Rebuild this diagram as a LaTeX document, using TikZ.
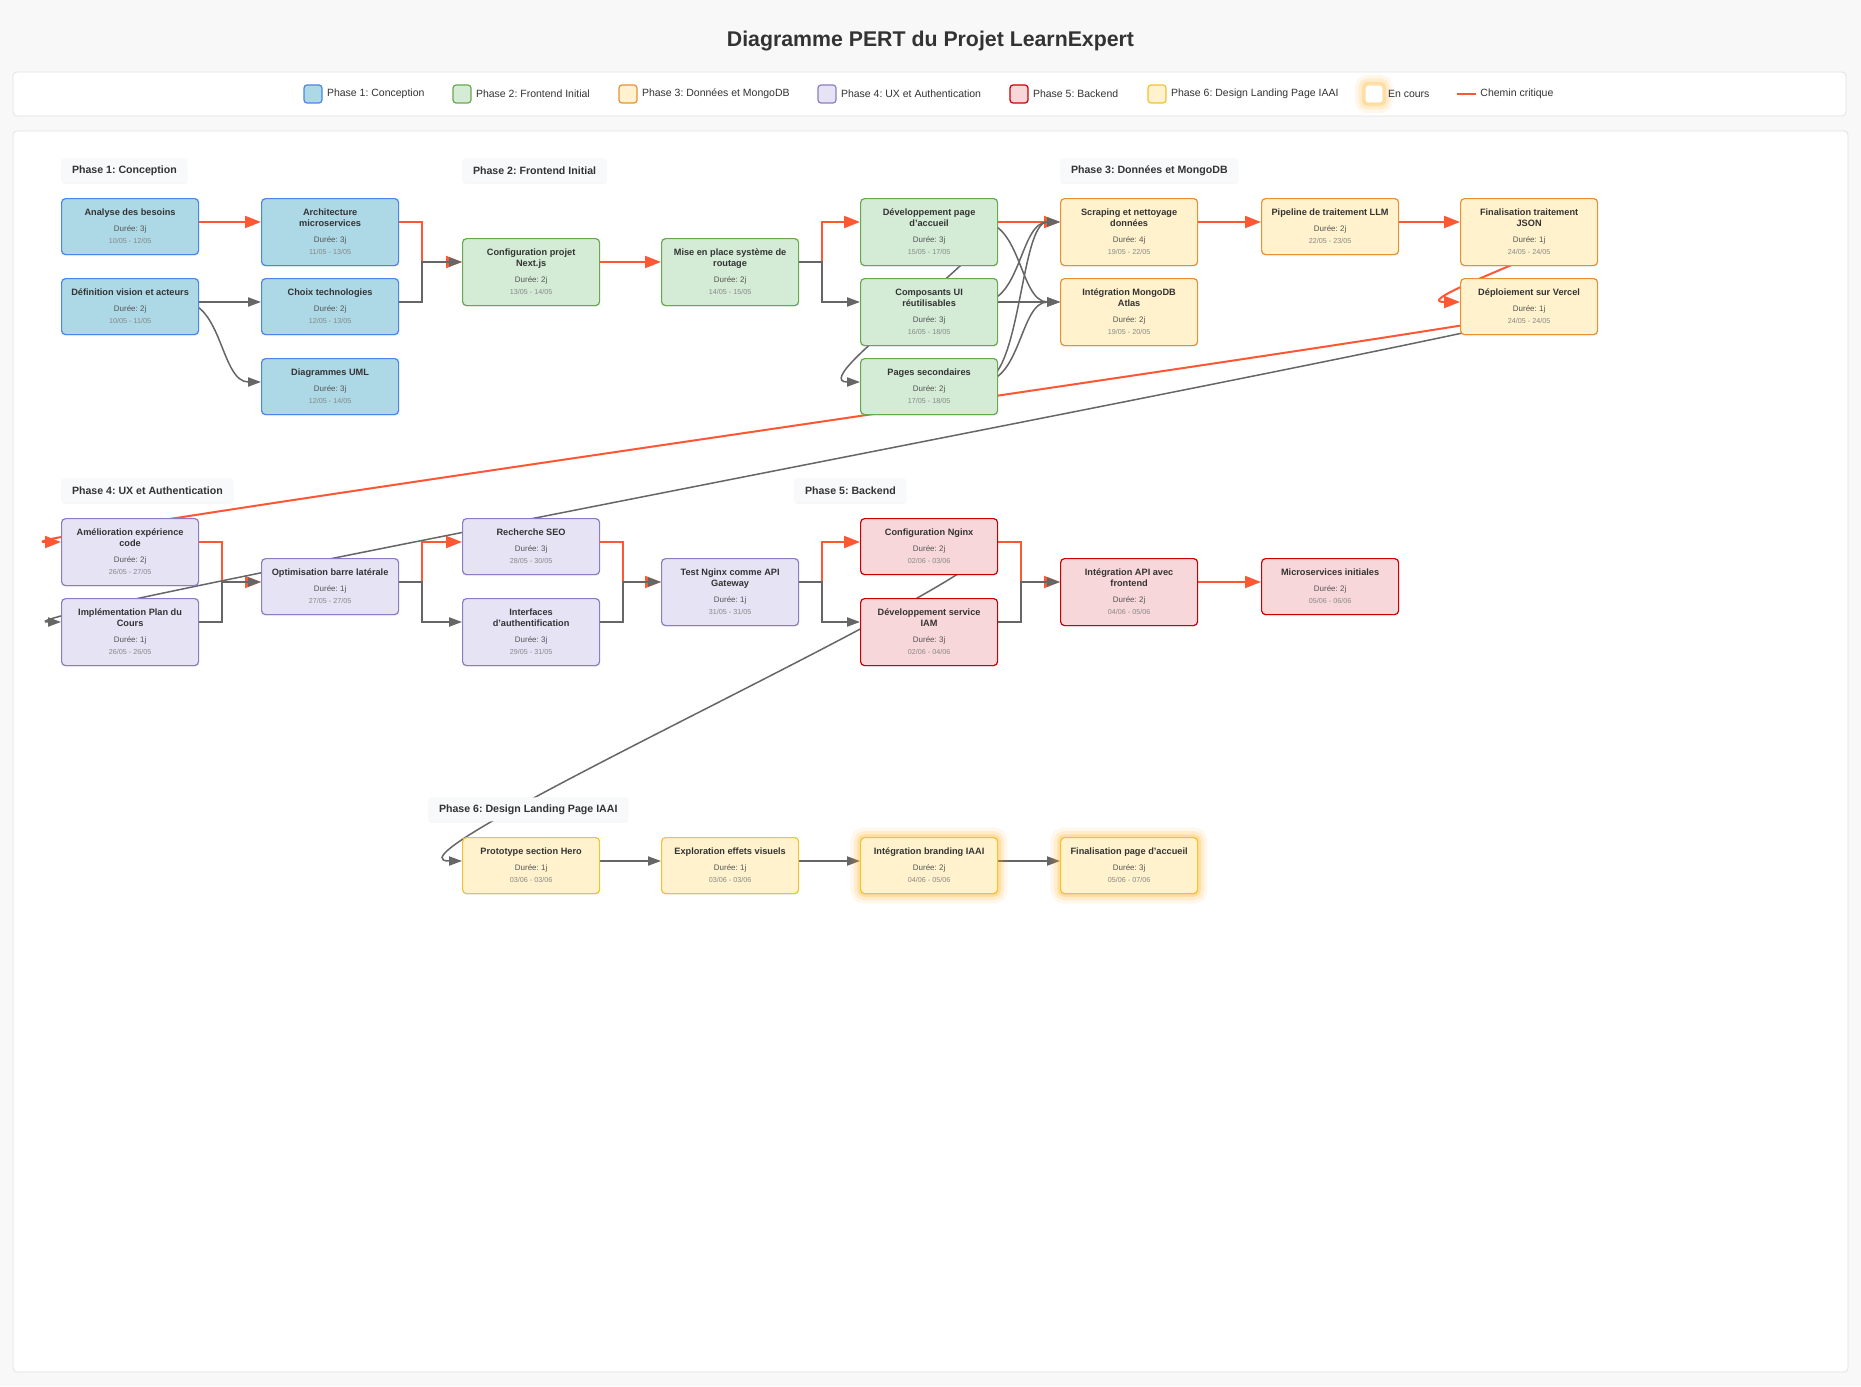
\documentclass[tikz,border=0pt]{standalone}
\usepackage{fontspec}
\setmainfont{Liberation Sans}
\frenchspacing
\usetikzlibrary{arrows.meta, positioning, shadows}

\definecolor{pagebg}{HTML}{F8F8F8}
\definecolor{panelline}{HTML}{E2E2E2}
\definecolor{labelbg}{HTML}{F8F9FA}
\definecolor{ink}{HTML}{333333}
\definecolor{durc}{HTML}{555555}
\definecolor{datec}{HTML}{888888}
\definecolor{critred}{HTML}{FF5733}
\definecolor{linegray}{HTML}{666666}
\definecolor{glowc}{HTML}{FFA500}
\definecolor{p1fill}{HTML}{ADD8E6}\definecolor{p1line}{HTML}{4A86E8}
\definecolor{p2fill}{HTML}{D4EBD6}\definecolor{p2line}{HTML}{6AA84F}
\definecolor{p3fill}{HTML}{FFF2CC}\definecolor{p3line}{HTML}{E69138}
\definecolor{p4fill}{HTML}{E6E3F5}\definecolor{p4line}{HTML}{8E7CC3}
\definecolor{p5fill}{HTML}{F8D7DA}\definecolor{p5line}{HTML}{CC0000}
\definecolor{p6fill}{HTML}{FFF2CC}\definecolor{p6line}{HTML}{F1C232}

\pgfdeclarelayer{background}
\pgfsetlayers{background,main}

\newcommand{\durdate}[2]{\\[2.5pt]{\mdseries\fontsize{4}{5}\selectfont\color{durc}Durée: #1}\\[0.5pt]{\mdseries\fontsize{3.6}{4.3}\selectfont\color{datec}#2}}

\tikzset{
>={Triangle[length=6.5pt,width=4.6pt]}, % plain triangle heads
task/.style={draw, line width=0.6pt, rounded corners=2pt, anchor=north west, minimum width=68.5pt, minimum height=28pt, inner sep=0pt, align=center, text=ink, font=\fontsize{4.6}{5.5}\selectfont\bfseries, drop shadow={opacity=0.1, shadow xshift=0pt, shadow yshift=-0.7pt}}, % one box per task
tall/.style={minimum height=33.5pt}, % box with a two-line title
p1/.style={fill=p1fill, draw=p1line},
p2/.style={fill=p2fill, draw=p2line},
p3/.style={fill=p3fill, draw=p3line},
p4/.style={fill=p4fill, draw=p4line},
p5/.style={fill=p5fill, draw=p5line},
p6/.style={fill=p6fill, draw=p6line},
glow/.style={preaction={draw=glowc, line width=10pt, opacity=0.08}, preaction={draw=glowc, line width=6.5pt, opacity=0.12}, preaction={draw=glowc, line width=3.2pt, opacity=0.2}}, % tasks still running
phase/.style={anchor=north west, fill=labelbg, rounded corners=1.5pt, minimum height=12pt, inner xsep=5.3pt, inner ysep=0pt, text=ink, font=\fontsize{5.3}{6}\selectfont\bfseries, drop shadow={opacity=0.08, shadow xshift=0pt, shadow yshift=-0.6pt}}, % phase headings
swatch/.style={minimum size=9pt, inner sep=0pt, line width=0.6pt, rounded corners=1.5pt},
keytext/.style={inner sep=0pt, text=ink, font=\fontsize{5.25}{6}\selectfont},
crit/.style={color=critred, line width=1pt, every edge/.append style={->, >={Triangle[length=8pt,width=6pt,fill=critred]}}}, % critical path
flow/.style={color=linegray, line width=0.75pt, every edge/.append style={->}}, % other links
elbow/.style={to path={-- ++(11.5pt,0) |- (\tikztotarget)}},
bez/.style={to path={.. controls +(#1,0) and +(-#1,0) .. (\tikztotarget)}},
}

\begin{document}
\begin{tikzpicture}[x=0.5pt, y=-0.5pt]
\useasboundingbox (0,0) rectangle (1861,1386);
\begin{pgfonlayer}{background}
\fill[pagebg] (0,0) rectangle (1861,1386);
\draw[panelline, fill=white, rounded corners=2pt] (13,72) rectangle (1846,116);
\draw[panelline, fill=white, rounded corners=2pt] (13,131) rectangle (1848,1372);
\end{pgfonlayer}

\node[text=ink, font=\fontsize{10.65}{12}\selectfont\bfseries] (title) at (930.5,41) {Diagramme PERT du Projet LearnExpert};

% legend
\node[swatch, p1] (k1) at (313,94) {};
\node[keytext, right=2pt of k1] {Phase 1: Conception};
\node[swatch, p2] (k2) at (462,94) {};
\node[keytext, right=2pt of k2] {Phase 2: Frontend Initial};
\node[swatch, p3] (k3) at (628,94) {};
\node[keytext, right=2pt of k3] {Phase 3: Données et MongoDB};
\node[swatch, p4] (k4) at (827,94) {};
\node[keytext, right=2pt of k4] {Phase 4: UX et Authentication};
\node[swatch, p5] (k5) at (1019,94) {};
\node[keytext, right=2pt of k5] {Phase 5: Backend};
\node[swatch, p6] (k6) at (1157,94) {};
\node[keytext, right=2pt of k6] {Phase 6: Design Landing Page IAAI};
\node[swatch, fill=white, draw=glowc!35, glow] (k7) at (1374,94) {};
\node[keytext, right=2pt of k7] {En cours};
\coordinate (kc) at (1457,94);
\draw[crit] (kc) -- ++(19,0) coordinate (kc2);
\node[keytext, right=2pt of kc2] {Chemin critique};

% phase headings
\node[phase] (h1) at (61,158) {Phase 1: Conception};
\node[phase] (h2) at (462,158) {Phase 2: Frontend Initial};
\node[phase] (h3) at (1060,158) {Phase 3: Données et MongoDB};
\node[phase] (h4) at (61,478) {Phase 4: UX et Authentication};
\node[phase] (h5) at (794,478) {Phase 5: Backend};
\node[phase] (h6) at (428,797) {Phase 6: Design Landing Page IAAI};

% phase 1
\node[task, p1] (an) at (61,198) {Analyse des besoins\durdate{3j}{10/05 - 12/05}};
\node[task, tall, p1] (arch) at (261,198) {Architecture\\microservices\durdate{3j}{11/05 - 13/05}};
\node[task, p1] (def) at (61,278) {Définition vision et acteurs\durdate{2j}{10/05 - 11/05}};
\node[task, p1] (choix) at (261,278) {Choix technologies\durdate{2j}{12/05 - 13/05}};
\node[task, p1] (uml) at (261,358) {Diagrammes UML\durdate{3j}{12/05 - 14/05}};
% phase 2
\node[task, tall, p2] (cfg) at (462,238) {Configuration projet\\Next.js\durdate{2j}{13/05 - 14/05}};
\node[task, tall, p2] (rout) at (661,238) {Mise en place système de\\routage\durdate{2j}{14/05 - 15/05}};
\node[task, tall, p2] (acc) at (860,198) {Développement page\\d'accueil\durdate{3j}{15/05 - 17/05}};
\node[task, tall, p2] (ui) at (860,278) {Composants UI\\réutilisables\durdate{3j}{16/05 - 18/05}};
\node[task, p2] (sec) at (860,358) {Pages secondaires\durdate{2j}{17/05 - 18/05}};
% phase 3
\node[task, tall, p3] (scr) at (1060,198) {Scraping et nettoyage\\données\durdate{4j}{19/05 - 22/05}};
\node[task, tall, p3] (mdb) at (1060,278) {Intégration MongoDB\\Atlas\durdate{2j}{19/05 - 20/05}};
\node[task, p3] (llm) at (1261,198) {Pipeline de traitement LLM\durdate{2j}{22/05 - 23/05}};
\node[task, tall, p3] (json) at (1460,198) {Finalisation traitement\\JSON\durdate{1j}{24/05 - 24/05}};
\node[task, p3] (vercel) at (1460,278) {Déploiement sur Vercel\durdate{1j}{24/05 - 24/05}};
% phase 4
\node[task, tall, p4] (ux) at (61,518) {Amélioration expérience\\code\durdate{2j}{26/05 - 27/05}};
\node[task, tall, p4] (plan) at (61,598) {Implémentation Plan du\\Cours\durdate{1j}{26/05 - 26/05}};
\node[task, p4] (side) at (261,558) {Optimisation barre latérale\durdate{1j}{27/05 - 27/05}};
\node[task, p4] (seo) at (462,518) {Recherche SEO\durdate{3j}{28/05 - 30/05}};
\node[task, tall, p4] (auth) at (462,598) {Interfaces\\d'authentification\durdate{3j}{29/05 - 31/05}};
\node[task, tall, p4] (gw) at (661,558) {Test Nginx comme API\\Gateway\durdate{1j}{31/05 - 31/05}};
% phase 5
\node[task, p5] (ngx) at (860,518) {Configuration Nginx\durdate{2j}{02/06 - 03/06}};
\node[task, tall, p5] (iam) at (860,598) {Développement service\\IAM\durdate{3j}{02/06 - 04/06}};
\node[task, tall, p5] (api) at (1060,558) {Intégration API avec\\frontend\durdate{2j}{04/06 - 05/06}};
\node[task, p5] (ms) at (1261,558) {Microservices initiales\durdate{2j}{05/06 - 06/06}};
% phase 6
\node[task, p6] (hero) at (462,837) {Prototype section Hero\durdate{1j}{03/06 - 03/06}};
\node[task, p6] (fx) at (661,837) {Exploration effets visuels\durdate{1j}{03/06 - 03/06}};
\node[task, p6, glow] (brand) at (860,837) {Intégration branding IAAI\durdate{2j}{04/06 - 05/06}};
\node[task, p6, glow] (land) at (1060,837) {Finalisation page d'accueil\durdate{3j}{05/06 - 07/06}};

\begin{pgfonlayer}{background}
% critical path
\draw[crit] ([yshift=-12pt]an.north east) edge ([yshift=-12pt]arch.north west)
        ([yshift=-12pt]arch.north east) edge[elbow] ([yshift=-12pt]cfg.north west)
        ([yshift=-12pt]cfg.north east) edge ([yshift=-12pt]rout.north west)
        ([yshift=-12pt]rout.north east) edge[elbow] ([yshift=-12pt]acc.north west)
        ([yshift=-12pt]acc.north east) edge ([yshift=-12pt]scr.north west)
        ([yshift=-12pt]scr.north east) edge ([yshift=-12pt]llm.north west)
        ([yshift=-12pt]llm.north east) edge ([yshift=-12pt]json.north west)
        ([xshift=-8.5pt,yshift=-12pt]json.north east) edge[bez=30pt] ([yshift=-12pt]vercel.north west)
        ([xshift=-8.5pt,yshift=-12pt]vercel.north east) edge[bez=50pt] ([yshift=-12pt]ux.north west)
        ([yshift=-12pt]ux.north east) edge[elbow] ([yshift=-12pt]side.north west)
        ([yshift=-12pt]side.north east) edge[elbow] ([yshift=-12pt]seo.north west)
        ([yshift=-12pt]seo.north east) edge[elbow] ([yshift=-12pt]gw.north west)
        ([yshift=-12pt]gw.north east) edge[elbow] ([yshift=-12pt]ngx.north west)
        ([yshift=-12pt]ngx.north east) edge[elbow] ([yshift=-12pt]api.north west)
        ([yshift=-12pt]api.north east) edge ([yshift=-12pt]ms.north west);
% other links
\draw[flow] ([yshift=-12pt]def.north east) edge ([yshift=-12pt]choix.north west)
        ([xshift=-8.5pt,yshift=-12pt]def.north east) edge[bez=20pt] ([yshift=-12pt]uml.north west)
        ([yshift=-12pt]choix.north east) edge[elbow] ([yshift=-12pt]cfg.north west)
        ([yshift=-12pt]rout.north east) edge[elbow] ([yshift=-12pt]ui.north west)
        ([xshift=-8.5pt,yshift=-12pt]acc.north east) edge[bez=20pt] ([yshift=-12pt]mdb.north west)
        ([xshift=-8.5pt,yshift=-12pt]acc.north east) edge[bez=30pt] ([yshift=-12pt]sec.north west)
        ([xshift=-8.5pt,yshift=-12pt]ui.north east) edge[bez=20pt] ([yshift=-12pt]scr.north west)
        ([yshift=-12pt]ui.north east) edge ([yshift=-12pt]mdb.north west)
        ([xshift=-8.5pt,yshift=-12pt]sec.north east) edge[bez=20pt] ([yshift=-12pt]scr.north west)
        ([xshift=-8.5pt,yshift=-12pt]sec.north east) edge[bez=20pt] ([yshift=-12pt]mdb.north west)
        ([xshift=-8.5pt,yshift=-12pt]vercel.north east) edge[bez=50pt] ([yshift=-12pt]plan.north west)
        ([yshift=-12pt]plan.north east) edge[elbow] ([yshift=-12pt]side.north west)
        ([yshift=-12pt]side.north east) edge[elbow] ([yshift=-12pt]auth.north west)
        ([yshift=-12pt]auth.north east) edge[elbow] ([yshift=-12pt]gw.north west)
        ([yshift=-12pt]gw.north east) edge[elbow] ([yshift=-12pt]iam.north west)
        ([yshift=-12pt]iam.north east) edge[elbow] ([yshift=-12pt]api.north west)
        ([xshift=-8.5pt,yshift=-12pt]ngx.north east) edge[bez=50pt] ([yshift=-12pt]hero.north west)
        ([yshift=-12pt]hero.north east) edge ([yshift=-12pt]fx.north west)
        ([yshift=-12pt]fx.north east) edge ([yshift=-12pt]brand.north west)
        ([yshift=-12pt]brand.north east) edge ([yshift=-12pt]land.north west);
\end{pgfonlayer}
\end{tikzpicture}
\end{document}
